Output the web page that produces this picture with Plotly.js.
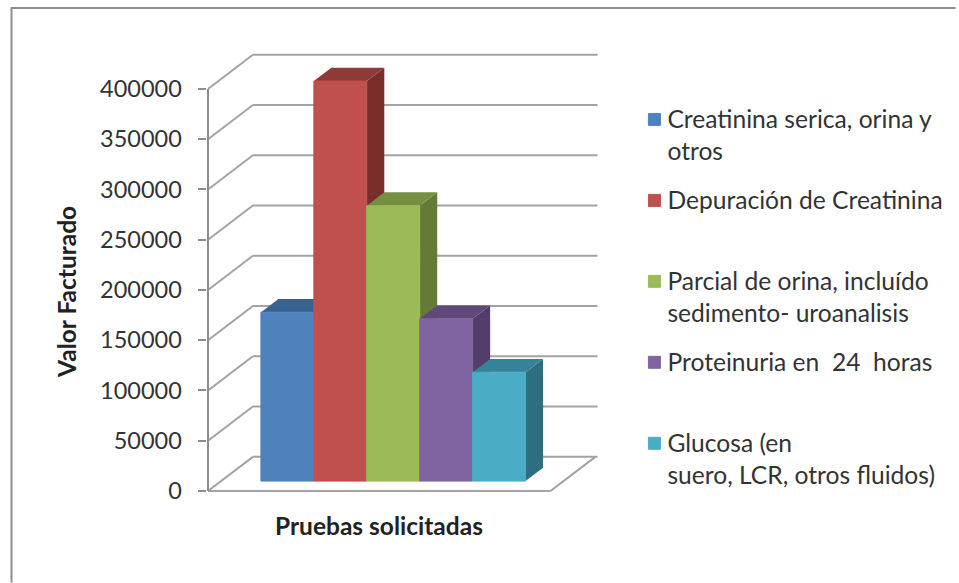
<!DOCTYPE html>
<html><head><meta charset="utf-8">
<script src="https://cdn.plot.ly/plotly-3.0.1.min.js"></script>
<style>html,body{margin:0;padding:0;background:#fff;overflow:hidden}</style>
</head><body><div id="chart" style="width:959px;height:583px"></div>
<script>
const categories = ["Creatinina serica, orina y<br>otros","Depuración de Creatinina<br> ","Parcial de orina, incluído<br>sedimento- uroanalisis","Proteinuria en  24  horas<br> ","Glucosa (en<br>suero, LCR, otros fluidos)"];
const values = [168000, 398000, 274000, 161400, 108300];
const frontColors = ["#4F81BD","#C0504D","#9BBB59","#8064A2","#4BACC6"];
const topColors = ["#3A6291","#8E3A38","#758E42","#60497A","#358398"];
const sideColors = ["#2F5277","#7A2E2C","#647A36","#533D69","#2D6E80"];
const tickValues = [0,50000,100000,150000,200000,250000,300000,350000,400000];

const W=959,H=583,L=206.5,R=600.5,T=53,B=494.5;
const unit=53.2, ppv=402.5/400000;
const x0=-1.5, floorW=6.47, xEnd=x0+(599-207.5)/unit;
const wallDX=0.848, wallDV=34000, baseT=0.29, depthT=0.39;
const base=baseT*wallDV, ddx=depthT*wallDX, ddv=depthT*wallDV;
const gridCol="#a3a3a3";
const shapes=[];
const line=(xa,ya,xb,yb,col,w)=>shapes.push({type:'line',xref:'x',yref:'y',x0:xa,y0:ya,x1:xb,y1:yb,layer:'below',line:{color:col||gridCol,width:w||2}});
const poly=(pts,col)=>shapes.push({type:'path',xref:'x',yref:'y',layer:'below',path:'M'+pts.map(p=>p.join(' ')).join('L')+'Z',fillcolor:col,line:{width:0}});
tickValues.forEach(v=>{
  line(x0+wallDX,v+wallDV,xEnd,v+wallDV);
  line(x0,v,x0+wallDX,v+wallDV);
});
line(x0,0,x0+floorW,0);
line(x0+floorW,0,x0+floorW+wallDX,wallDV);
line(x0,0,x0,400000,"#8c8c8c",2);
values.forEach((v,i)=>{
  const r=i+0.5,l=i-0.5,t=base+v;
  poly([[r,base],[r,t],[r+ddx,t+ddv],[r+ddx,base+ddv]],sideColors[i]);
  poly([[l,t],[r,t],[r+ddx,t+ddv],[l+ddx,t+ddv]],topColors[i]);
});
const px=x=>(x-L)/(R-L), py=y=>(B-y)/(B-T);
shapes.push({type:'path',xref:'paper',yref:'paper',layer:'below',
  path:`M${px(10)} ${py(583)}L${px(10)} ${py(8)}L${px(959)} ${py(8)}`,line:{color:"#8f8f8f",width:2}});

const traces=values.map((v,i)=>({type:'bar',x:[i],y:[v],base:[base],width:[1],name:categories[i],
  legendgroup:'g'+i,marker:{color:frontColors[i],line:{color:frontColors[i],width:1}},hoverinfo:'skip'}));

const textCol="#333333", F="Lato, 'Open Sans', sans-serif";
const layout={width:W,height:H,autosize:false,paper_bgcolor:'#fff',plot_bgcolor:'rgba(0,0,0,0)',
  margin:{l:L,r:W-R,t:T,b:H-B,pad:0},barmode:'overlay',hovermode:false,shapes,
  xaxis:{range:[x0-1/unit,x0+(R-207.5)/unit],showgrid:false,zeroline:false,showline:false,showticklabels:false,ticks:'',fixedrange:true},
  yaxis:{range:[-3/ppv,(491.5-T)/ppv],tickvals:tickValues,tickformat:'d',showgrid:false,zeroline:false,showline:false,
    ticks:'outside',ticklen:8.5,tickwidth:2,tickcolor:"#8c8c8c",ticklabelstandoff:11,tickfont:{family:F,size:23.5,color:textCol},fixedrange:true},
  legend:{x:px(628),y:py(96),xanchor:'left',yanchor:'top',traceorder:'grouped',tracegroupgap:14,bgcolor:'rgba(0,0,0,0)',
    font:{family:F,size:24.6,color:textCol},itemclick:false,itemdoubleclick:false},
  annotations:[
    {text:"<b>Pruebas solicitadas</b>",xref:'paper',yref:'paper',x:px(379),y:py(526),xanchor:'center',yanchor:'middle',showarrow:false,font:{family:F,size:24.5,color:"#222"}},
    {text:"<b>Valor Facturado</b>",xref:'paper',yref:'paper',x:px(66),y:py(292),xanchor:'center',yanchor:'middle',textangle:-90,showarrow:false,font:{family:F,size:24.5,color:"#222"}}
  ]};
Plotly.newPlot('chart',traces,layout,{displayModeBar:false,staticPlot:true}).then(()=>{
  document.querySelectorAll('#chart .legend .legendsymbols').forEach(el=>el.setAttribute('transform','translate(7,-15)'));
});
</script></body></html>
